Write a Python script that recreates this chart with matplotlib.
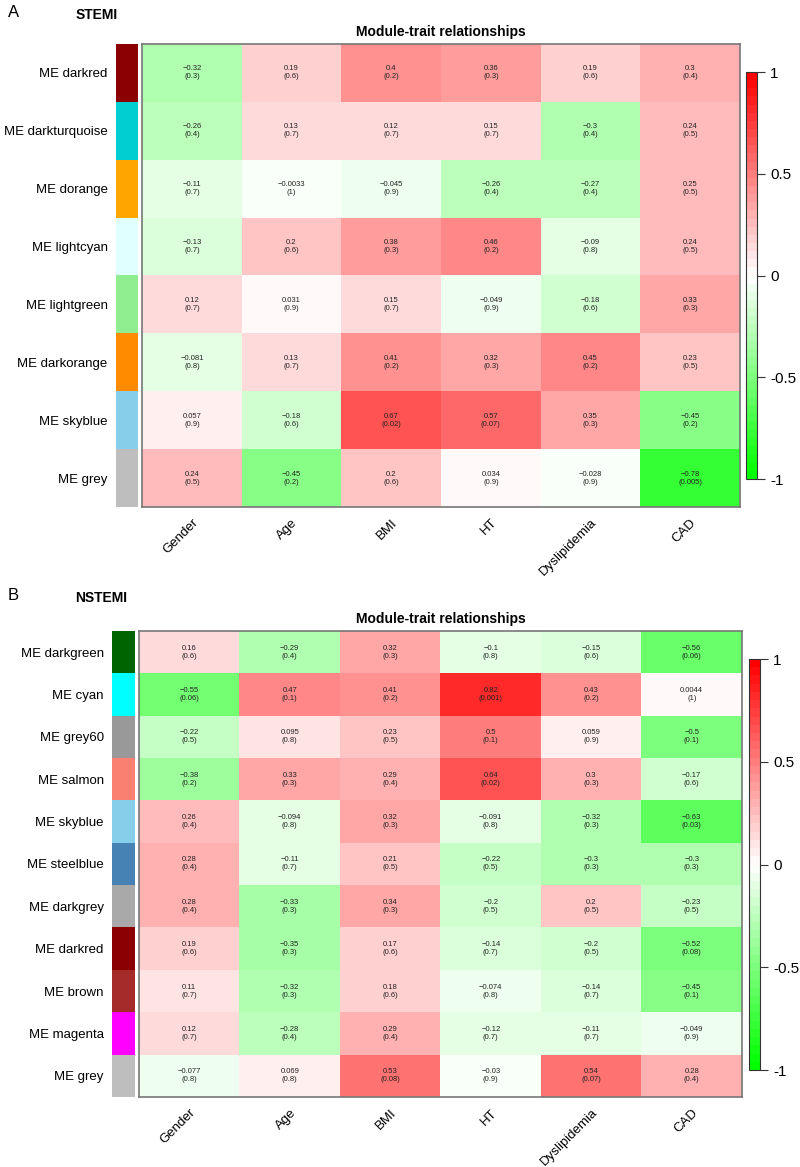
import matplotlib
matplotlib.use("Agg")
import matplotlib.pyplot as plt
import numpy as np
from matplotlib.colors import LinearSegmentedColormap, to_rgb
from matplotlib.cm import ScalarMappable
from matplotlib.colors import Normalize

plt.rcParams['font.family'] = ['Liberation Sans', 'DejaVu Sans']

traits = ["Gender", "Age", "BMI", "HT", "Dyslipidemia", "CAD"]

# Panel A: STEMI
mods_a = ["darkred", "darkturquoise", "dorange", "lightcyan",
          "lightgreen", "darkorange", "skyblue", "grey"]
cols_a = ["#8B0000", "#00CED1", "#FFA500", "#E0FFFF",
          "#90EE90", "#FF8C00", "#87CEEB", "#BEBEBE"]
cor_a = [[-0.32, 0.19, 0.4, 0.36, 0.19, 0.3],
         [-0.26, 0.13, 0.12, 0.15, -0.3, 0.24],
         [-0.11, -0.0033, -0.045, -0.26, -0.27, 0.25],
         [-0.13, 0.2, 0.38, 0.46, -0.09, 0.24],
         [0.12, 0.031, 0.15, -0.049, -0.18, 0.33],
         [-0.081, 0.13, 0.41, 0.32, 0.45, 0.23],
         [0.057, -0.18, 0.67, 0.57, 0.35, -0.45],
         [0.24, -0.45, 0.2, 0.034, -0.028, -0.78]]
p_a = [["0.3", "0.6", "0.2", "0.3", "0.6", "0.4"],
       ["0.4", "0.7", "0.7", "0.7", "0.4", "0.5"],
       ["0.7", "1", "0.9", "0.4", "0.4", "0.5"],
       ["0.7", "0.6", "0.3", "0.2", "0.8", "0.5"],
       ["0.7", "0.9", "0.7", "0.9", "0.6", "0.3"],
       ["0.8", "0.7", "0.2", "0.3", "0.2", "0.5"],
       ["0.9", "0.6", "0.02", "0.07", "0.3", "0.2"],
       ["0.5", "0.2", "0.6", "0.9", "0.9", "0.005"]]

# Panel B: NSTEMI
mods_b = ["darkgreen", "cyan", "grey60", "salmon", "skyblue", "steelblue",
          "darkgrey", "darkred", "brown", "magenta", "grey"]
cols_b = ["#006400", "#00FFFF", "#999999", "#FA8072", "#87CEEB", "#4682B4",
          "#A9A9A9", "#8B0000", "#A52A2A", "#FF00FF", "#BEBEBE"]
cor_b = [[0.16, -0.29, 0.32, -0.1, -0.15, -0.56],
         [-0.55, 0.47, 0.41, 0.82, 0.43, 0.0044],
         [-0.22, 0.095, 0.23, 0.5, 0.059, -0.5],
         [-0.38, 0.33, 0.29, 0.64, 0.3, -0.17],
         [0.26, -0.094, 0.32, -0.091, -0.32, -0.63],
         [0.28, -0.11, 0.21, -0.22, -0.3, -0.3],
         [0.28, -0.33, 0.34, -0.2, 0.2, -0.23],
         [0.19, -0.35, 0.17, -0.14, -0.2, -0.52],
         [0.11, -0.32, 0.18, -0.074, -0.14, -0.45],
         [0.12, -0.28, 0.29, -0.12, -0.11, -0.049],
         [-0.077, 0.069, 0.53, -0.03, 0.54, 0.28]]
p_b = [["0.6", "0.4", "0.3", "0.8", "0.6", "0.06"],
       ["0.06", "0.1", "0.2", "0.001", "0.2", "1"],
       ["0.5", "0.8", "0.5", "0.1", "0.9", "0.1"],
       ["0.2", "0.3", "0.4", "0.02", "0.3", "0.6"],
       ["0.4", "0.8", "0.3", "0.8", "0.3", "0.03"],
       ["0.4", "0.7", "0.5", "0.5", "0.3", "0.3"],
       ["0.4", "0.3", "0.3", "0.5", "0.5", "0.5"],
       ["0.6", "0.3", "0.6", "0.7", "0.5", "0.08"],
       ["0.7", "0.3", "0.6", "0.8", "0.7", "0.1"],
       ["0.7", "0.4", "0.4", "0.7", "0.7", "0.9"],
       ["0.8", "0.8", "0.08", "0.9", "0.07", "0.4"]]

cmap = LinearSegmentedColormap.from_list("gwr", ["#00FF00", "#FFFFFF", "#FF0000"], N=50)
norm = Normalize(-1, 1)


def fmt(v):
    s = "{:g}".format(v)
    return s.replace("-", "\u2212")


def panel(fig, mods, cols, cor, pv, hm_box, strip_box, cb_box, letter, name, ly):
    cor = np.array(cor)
    ax = fig.add_axes(hm_box)
    ax.imshow(cor, cmap=cmap, norm=norm, aspect="auto", interpolation="nearest")
    for i in range(cor.shape[0]):
        for j in range(cor.shape[1]):
            ax.text(j, i, fmt(cor[i, j]) + "\n(" + pv[i][j] + ")",
                    ha="center", va="center", fontsize=5.5, linespacing=1.2,
                    color="#222222")
    ax.set_yticks([])
    ax.set_xticks(range(len(traits)))
    ax.set_xticklabels(traits, rotation=45, ha="right", rotation_mode="anchor",
                       fontsize=9.5)
    ax.tick_params(axis="x", length=0, pad=7)
    for s in ax.spines.values():
        s.set_color("#777777")
        s.set_linewidth(1.2)
    ax.set_title("Module-trait relationships", fontsize=10, fontweight="bold", pad=6)

    sax = fig.add_axes(strip_box)
    rgb = np.array([[to_rgb(c)] for c in cols])
    sax.imshow(rgb, aspect="auto", interpolation="nearest")
    sax.set_xticks([])
    sax.set_yticks(range(len(mods)))
    sax.set_yticklabels(["ME " + m for m in mods], fontsize=9.5)
    sax.tick_params(axis="y", length=0, pad=6)
    for s in sax.spines.values():
        s.set_visible(False)

    cax = fig.add_axes(cb_box)
    cb = fig.colorbar(ScalarMappable(norm=norm, cmap=cmap), cax=cax)
    cb.set_ticks([-1, -0.5, 0, 0.5, 1])
    cb.set_ticklabels(["-1", "-0.5", "0", "0.5", "1"])
    cax.tick_params(labelsize=11, length=6, width=0.8, color="#333333")
    cb.outline.set_linewidth(0.8)
    cb.outline.set_edgecolor("#333333")

    fig.text(0.01, ly, letter, fontsize=12, va="center")
    fig.text(0.094, ly - 0.002, name, fontsize=10, fontweight="bold", va="center")


fig = plt.figure(figsize=(8, 11.67), dpi=100)

panel(fig, mods_a, cols_a, cor_a, p_a,
      [0.1775, 0.5656, 0.7475, 0.3967], [0.145, 0.5656, 0.0275, 0.3967],
      [0.9325, 0.5895, 0.01375, 0.3488], "A", "STEMI", 0.9895)
panel(fig, mods_b, cols_b, cor_b, p_b,
      [0.17375, 0.06, 0.75375, 0.3993], [0.14, 0.06, 0.02875, 0.3993],
      [0.93625, 0.0831, 0.01375, 0.3522], "B", "NSTEMI", 0.4895)

fig.savefig("out.png", dpi=100)
